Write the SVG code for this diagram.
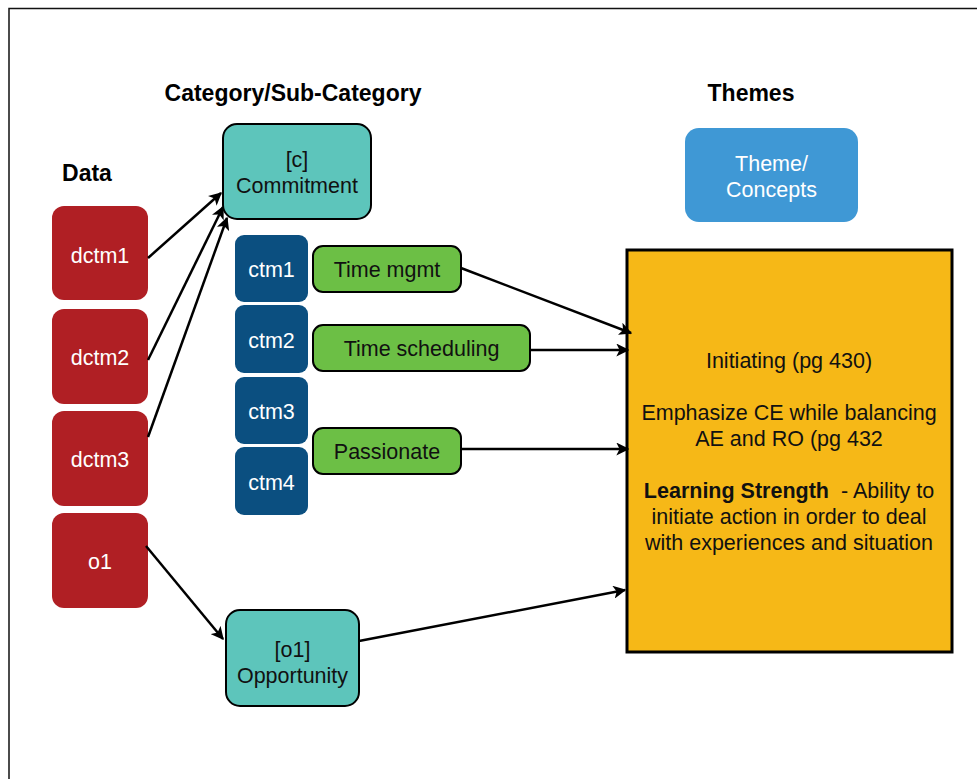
<svg xmlns="http://www.w3.org/2000/svg" width="977" height="779" viewBox="0 0 977 779">
<defs>
<marker id="ah" viewBox="0 0 10 10" refX="9" refY="5" markerWidth="13" markerHeight="13" markerUnits="userSpaceOnUse" orient="auto">
<path d="M0,0 L10,5 L0,10 L2.5,5 Z" fill="#000"/>
</marker>
<style>
text{font-family:"Liberation Sans",Arial,sans-serif;text-anchor:middle}
.hd{font-size:23px;font-weight:bold;fill:#000}
.red{fill:#b01f24}
.blue{fill:#0b4f80}
.wt{fill:#fff;font-size:21.5px}
.bt{fill:#111;font-size:21.5px}
.teal{fill:#5dc5bb;stroke:#000;stroke-width:2}
.green{fill:#6cbf45;stroke:#000;stroke-width:2}
.con{stroke:#000;stroke-width:2.5;fill:none;marker-end:url(#ah)}
</style>
</defs>
<rect width="977" height="779" fill="#fff"/>
<path d="M9,779 V8.5 H977" fill="none" stroke="#111" stroke-width="1.5"/>
<text class="hd" x="293" y="101">Category/Sub-Category</text>
<text class="hd" x="751" y="101">Themes</text>
<text class="hd" x="87" y="181">Data</text>

<g id="commitment"><rect class="teal" x="223" y="124" width="148" height="95" rx="14"/><text class="bt" x="297" y="167">[c]</text><text class="bt" x="297" y="193">Commitment</text></g>
<g id="dctm1"><rect class="red" x="52" y="206" width="96" height="94" rx="12"/><text class="wt" x="100" y="263">dctm1</text></g>
<g id="dctm2"><rect class="red" x="52" y="309" width="96" height="95" rx="12"/><text class="wt" x="100" y="365">dctm2</text></g>
<g id="dctm3"><rect class="red" x="52" y="411" width="96" height="95" rx="12"/><text class="wt" x="100" y="467">dctm3</text></g>
<g id="o1"><rect class="red" x="52" y="513" width="96" height="95" rx="12"/><text class="wt" x="100" y="569">o1</text></g>
<g id="ctm1"><rect class="blue" x="235" y="235" width="73" height="67" rx="9"/><text class="wt" x="271.5" y="277">ctm1</text></g>
<g id="ctm2"><rect class="blue" x="235" y="305" width="73" height="68" rx="9"/><text class="wt" x="271.5" y="348">ctm2</text></g>
<g id="ctm3"><rect class="blue" x="235" y="377" width="73" height="67" rx="9"/><text class="wt" x="271.5" y="419">ctm3</text></g>
<g id="ctm4"><rect class="blue" x="235" y="447" width="73" height="68" rx="9"/><text class="wt" x="271.5" y="490">ctm4</text></g>
<g id="timemgmt"><rect class="green" x="313" y="246" width="148" height="46" rx="10"/><text class="bt" x="387" y="277">Time mgmt</text></g>
<g id="timescheduling"><rect class="green" x="313" y="325" width="217" height="46" rx="10"/><text class="bt" x="421.5" y="356">Time scheduling</text></g>
<g id="passionate"><rect class="green" x="313" y="428" width="148" height="46" rx="10"/><text class="bt" x="387" y="459">Passionate</text></g>
<g id="opportunity"><rect class="teal" x="226" y="610" width="133" height="96" rx="14"/><text class="bt" x="292.5" y="657">[o1]</text><text class="bt" x="292.5" y="683">Opportunity</text></g>
<g id="themeconcepts"><rect x="685" y="128" width="173" height="94" rx="14" fill="#3f98d5"/><text class="wt" x="771.5" y="171">Theme/</text><text class="wt" x="771.5" y="197">Concepts</text></g>
<g id="theme"><rect x="627" y="250" width="325" height="402" fill="#f6b817" stroke="#000" stroke-width="3"/>
<text class="bt" x="789" y="368">Initiating (pg 430)</text>
<text class="bt" x="789" y="420">Emphasize CE while balancing</text>
<text class="bt" x="789" y="446">AE and RO (pg 432</text>
<text class="bt" x="789" y="498"><tspan font-weight="bold">Learning Strength</tspan>&#160; - Ability to</text>
<text class="bt" x="789" y="524">initiate action in order to deal</text>
<text class="bt" x="789" y="550">with experiences and situation</text>
</g>
<g id="connectors">
<line class="con" x1="148" y1="258" x2="221" y2="193"/>
<line class="con" x1="148" y1="360" x2="223" y2="207"/>
<line class="con" x1="148" y1="437" x2="227" y2="218"/>
<line class="con" x1="146" y1="546" x2="223" y2="639"/>
<line class="con" x1="359" y1="641" x2="625" y2="590"/>
<line class="con" x1="461" y1="268" x2="631" y2="333"/>
<line class="con" x1="530" y1="350" x2="628" y2="350"/>
<line class="con" x1="461" y1="449" x2="628" y2="449"/>
</g>
</svg>
